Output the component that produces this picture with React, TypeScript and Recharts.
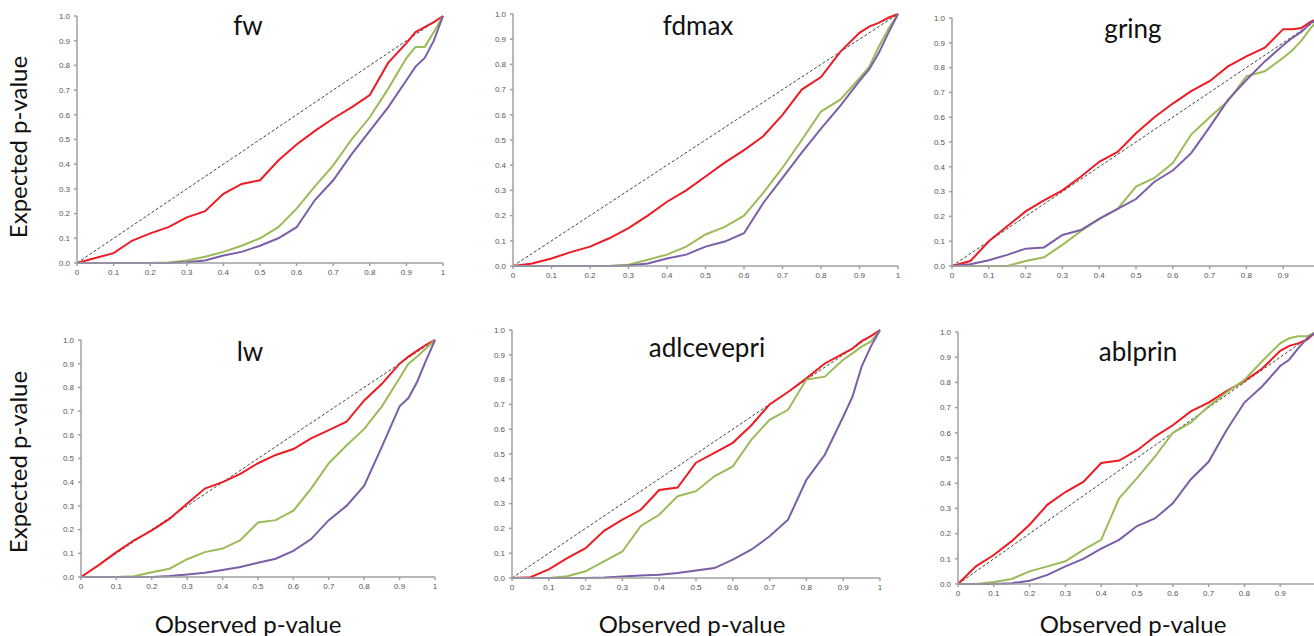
import { LineChart, Line, XAxis, YAxis, ReferenceLine } from 'recharts'

// observed p-value grid shared by every panel
const X = [0, 0.05, 0.1, 0.15, 0.2, 0.25, 0.3, 0.35, 0.4, 0.45, 0.5, 0.55, 0.6, 0.65, 0.7, 0.75, 0.8, 0.85, 0.9, 0.925, 0.95, 0.975, 1]

const X_TICKS = [0, 0.1, 0.2, 0.3, 0.4, 0.5, 0.6, 0.7, 0.8, 0.9, 1]
const Y_TICKS = [0, 0.1, 0.2, 0.3, 0.4, 0.5, 0.6, 0.7, 0.8, 0.9, 1]

const TITLES = ['fw', 'fdmax', 'gring', 'lw', 'adlcevepri', 'ablprin']

const FW_RED = [0, 0.02, 0.04, 0.09, 0.12, 0.145, 0.185, 0.21, 0.28, 0.32, 0.335, 0.415, 0.48, 0.535, 0.585, 0.63, 0.68, 0.81, 0.89, 0.935, 0.955, 0.975, 1]
const FW_GREEN = [0, 0, 0, 0, 0, 0.002, 0.01, 0.025, 0.045, 0.07, 0.1, 0.145, 0.22, 0.31, 0.395, 0.5, 0.59, 0.705, 0.83, 0.875, 0.875, 0.935, 1]
const FW_PURPLE = [0, 0, 0, 0, 0, 0, 0.003, 0.01, 0.03, 0.045, 0.07, 0.1, 0.145, 0.255, 0.335, 0.44, 0.535, 0.63, 0.74, 0.795, 0.83, 0.9, 1]

const FD_RED = [0, 0.01, 0.03, 0.055, 0.077, 0.11, 0.15, 0.2, 0.255, 0.3, 0.355, 0.41, 0.46, 0.515, 0.6, 0.7, 0.75, 0.85, 0.925, 0.95, 0.965, 0.985, 1]
const FD_GREEN = [0, 0, 0, 0, 0, 0, 0.005, 0.025, 0.045, 0.077, 0.125, 0.155, 0.2, 0.29, 0.39, 0.5, 0.613, 0.66, 0.745, 0.79, 0.87, 0.94, 1]
const FD_PURPLE = [0, 0, 0, 0, 0, 0, 0.002, 0.01, 0.03, 0.045, 0.077, 0.097, 0.13, 0.25, 0.35, 0.45, 0.545, 0.635, 0.735, 0.78, 0.845, 0.925, 1]

const GR_RED = [0, 0.02, 0.1, 0.16, 0.22, 0.265, 0.305, 0.36, 0.42, 0.46, 0.535, 0.6, 0.655, 0.705, 0.745, 0.805, 0.845, 0.88, 0.955, 0.955, 0.96, 0.985, 1]
const GR_GREEN = [0, 0, 0, 0, 0.02, 0.035, 0.085, 0.14, 0.19, 0.23, 0.32, 0.355, 0.415, 0.53, 0.6, 0.665, 0.765, 0.785, 0.84, 0.87, 0.91, 0.96, 1]
const GR_PURPLE = [0, 0.007, 0.023, 0.045, 0.07, 0.075, 0.125, 0.145, 0.19, 0.23, 0.27, 0.34, 0.385, 0.455, 0.56, 0.67, 0.75, 0.825, 0.89, 0.92, 0.945, 0.98, 1]

const LW_RED = [0, 0.05, 0.105, 0.155, 0.197, 0.245, 0.31, 0.373, 0.4, 0.435, 0.48, 0.515, 0.54, 0.585, 0.62, 0.655, 0.745, 0.815, 0.9, 0.93, 0.955, 0.98, 1]
const LW_GREEN = [0, 0, 0, 0.003, 0.02, 0.035, 0.075, 0.105, 0.12, 0.155, 0.23, 0.24, 0.28, 0.373, 0.48, 0.555, 0.625, 0.72, 0.84, 0.9, 0.93, 0.965, 1]
const LW_PURPLE = [0, 0, 0, 0, 0, 0.004, 0.011, 0.018, 0.03, 0.042, 0.06, 0.077, 0.11, 0.16, 0.24, 0.3, 0.385, 0.55, 0.72, 0.755, 0.825, 0.915, 1]

const AD_RED = [0, 0.003, 0.035, 0.08, 0.12, 0.19, 0.235, 0.275, 0.355, 0.365, 0.465, 0.505, 0.545, 0.615, 0.7, 0.75, 0.805, 0.865, 0.905, 0.925, 0.955, 0.975, 1]
const AD_GREEN = [0, 0, 0, 0.007, 0.027, 0.067, 0.107, 0.21, 0.255, 0.33, 0.35, 0.41, 0.45, 0.557, 0.638, 0.678, 0.8, 0.812, 0.88, 0.906, 0.933, 0.953, 1]
const AD_PURPLE = [0, 0, 0, 0, 0, 0.002, 0.006, 0.01, 0.013, 0.02, 0.03, 0.04, 0.074, 0.114, 0.168, 0.235, 0.396, 0.497, 0.65, 0.73, 0.852, 0.933, 1]

const AB_RED = [0, 0.07, 0.115, 0.17, 0.235, 0.315, 0.365, 0.405, 0.48, 0.49, 0.53, 0.585, 0.63, 0.685, 0.72, 0.765, 0.805, 0.855, 0.925, 0.945, 0.955, 0.97, 1]
const AB_GREEN = [0, 0, 0.008, 0.02, 0.05, 0.07, 0.09, 0.135, 0.175, 0.34, 0.42, 0.505, 0.6, 0.64, 0.705, 0.76, 0.81, 0.885, 0.955, 0.975, 0.983, 0.983, 1]
const AB_PURPLE = [0, 0, 0, 0.003, 0.013, 0.036, 0.07, 0.1, 0.14, 0.175, 0.23, 0.26, 0.32, 0.415, 0.485, 0.61, 0.72, 0.785, 0.865, 0.89, 0.935, 0.975, 1]

const SERIES = [
  [FW_RED, FW_GREEN, FW_PURPLE],
  [FD_RED, FD_GREEN, FD_PURPLE],
  [GR_RED, GR_GREEN, GR_PURPLE],
  [LW_RED, LW_GREEN, LW_PURPLE],
  [AD_RED, AD_GREEN, AD_PURPLE],
  [AB_RED, AB_GREEN, AB_PURPLE],
]

// plot-area boxes (left, top, width, height) and title centres
const BOXES = [
  { x: 77, y: 16, w: 366, h: 247, tx: 248, ty: 25 },
  { x: 513, y: 14, w: 385, h: 252, tx: 698, ty: 25 },
  { x: 952, y: 18, w: 368, h: 248, tx: 1133, ty: 28 },
  { x: 81, y: 340, w: 354, h: 237, tx: 250, ty: 351 },
  { x: 512, y: 330, w: 368, h: 248, tx: 707, ty: 347 },
  { x: 958, y: 332, w: 358, h: 252, tx: 1138, ty: 351 },
]

const COLORS = ['#ec1c24', '#9bbb59', '#7b5ea7']
const KEYS = ['red', 'green', 'purple']
const FONT = 'Lato, "Open Sans", sans-serif'
const AX = 30
const tickStyle = { fill: '#555', fontSize: 8, fontFamily: '"Liberation Sans", sans-serif' }

function Panel({ idx }: { idx: number }) {
  const b = BOXES[idx]
  const s = SERIES[idx]
  const data = X.map((x, i) => ({ x, red: s[0][i], green: s[1][i], purple: s[2][i] }))
  return (
    <>
      <div style={{ position: 'absolute', left: b.x - AX, top: b.y - 5 }}>
        <LineChart width={b.w + AX + 6} height={b.h + 5 + 22} data={data} margin={{ top: 5, right: 6, bottom: 0, left: 0 }}>
          <XAxis
            dataKey="x" type="number" domain={[0, 1]} ticks={X_TICKS}
            tickFormatter={(v: number) => (v === 0 ? '0' : v === 1 ? '1' : v.toFixed(1))}
            stroke="#a0a0a0" strokeWidth={1.5} tickSize={3} tickMargin={3} height={22}
            tick={tickStyle} interval={0}
          />
          <YAxis
            type="number" domain={[0, 1]} ticks={Y_TICKS}
            tickFormatter={(v: number) => v.toFixed(1)}
            stroke="#a0a0a0" strokeWidth={1.5} tickSize={3} tickMargin={4} width={AX}
            tick={tickStyle} interval={0}
          />
          <ReferenceLine segment={[{ x: 0, y: 0 }, { x: 1, y: 1 }]} stroke="#444" strokeDasharray="3 2" strokeWidth={1} />
          {KEYS.map((k, i) => (
            <Line key={k} dataKey={k} type="linear" stroke={COLORS[i]} strokeWidth={2} dot={false} isAnimationActive={false} />
          ))}
        </LineChart>
      </div>
      <div style={{ position: 'absolute', left: b.tx - 100, top: b.ty - 17, width: 200, textAlign: 'center', fontFamily: FONT, fontSize: 26, lineHeight: '34px', color: '#111' }}>
        {TITLES[idx]}
      </div>
    </>
  )
}

const yLabel = (cy: number) => (
  <div style={{ position: 'absolute', left: 18 - 110, top: cy - 16, width: 220, height: 32, textAlign: 'center', transform: 'rotate(-90deg)', fontFamily: FONT, fontSize: 24, lineHeight: '32px', color: '#111' }}>
    Expected p-value
  </div>
)

const xLabel = (cx: number) => (
  <div style={{ position: 'absolute', left: cx - 110, top: 608, width: 220, textAlign: 'center', fontFamily: FONT, fontSize: 24, lineHeight: '32px', color: '#111' }}>
    Observed p-value
  </div>
)

export default function App() {
  return (
    <div style={{ position: 'absolute', left: 0, top: 0, width: 1314, height: 636, overflow: 'hidden', background: '#fff' }}>
      {BOXES.map((_, i) => <Panel key={i} idx={i} />)}
      {yLabel(147)}
      {yLabel(462)}
      {xLabel(248)}
      {xLabel(692)}
      {xLabel(1133)}
    </div>
  )
}
